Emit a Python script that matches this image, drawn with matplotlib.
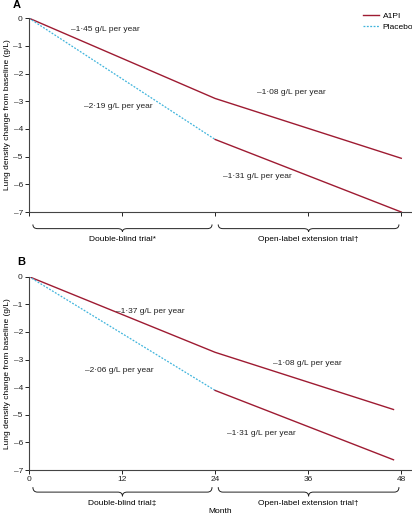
import matplotlib.pyplot as plt
from matplotlib.path import Path
from matplotlib.patches import PathPatch

plt.rcParams['font.family'] = ['Liberation Sans Narrow', 'Liberation Sans', 'DejaVu Sans']
plt.rcParams['font.size'] = 6

red = "#9e1b32"
blue = "#3fb4dc"

# panel A (all patients)
a_months = [0, 24, 48]
a_a1pi = [0, -2.90, -5.06]
a_plac_months = [0, 24]
a_plac = [0, -4.38]
a_delayed_months = [24, 48]
a_delayed = [-4.38, -7.0]

# panel B
b_months = [0, 24, 47]
b_a1pi = [0, -2.74, -4.81]
b_plac_months = [0, 24]
b_plac = [0, -4.12]
b_delayed_months = [24, 47]
b_delayed = [-4.12, -6.63]

yticks = [0, -1, -2, -3, -4, -5, -6, -7]
xticks = [0, 12, 24, 36, 48]

a_notes = [("\u20131\u00b745 g/L per year", 9.8, -0.42),
           ("\u20132\u00b719 g/L per year", 11.5, -3.2),
           ("\u20131\u00b708 g/L per year", 33.8, -2.7),
           ("\u20131\u00b731 g/L per year", 29.4, -5.73)]
b_notes = [("\u20131\u00b737 g/L per year", 15.6, -1.28),
           ("\u20132\u00b706 g/L per year", 11.6, -3.38),
           ("\u20131\u00b708 g/L per year", 35.9, -3.13),
           ("\u20131\u00b731 g/L per year", 29.9, -5.67)]


def brace(ax, x0, x1, ytop, ymid, ytip):
    xm = (x0 + x1) / 2
    r = 0.6
    verts = [(x0, ytop), (x0, ymid), (x0 + r, ymid),
             (xm - r, ymid), (xm, ymid), (xm, ytip),
             (xm, ymid), (xm + r, ymid),
             (x1 - r, ymid), (x1, ymid), (x1, ytop)]
    codes = [Path.MOVETO, Path.CURVE3, Path.CURVE3,
             Path.LINETO, Path.CURVE3, Path.CURVE3,
             Path.CURVE3, Path.CURVE3,
             Path.LINETO, Path.CURVE3, Path.CURVE3]
    ax.add_patch(PathPatch(Path(verts, codes), fill=False, lw=0.7,
                           color="#222222", clip_on=False))


def panel(ax, m, a1pi, pm, plac, dm, dl, notes, labels, show_x, yb):
    ax.plot(m, a1pi, color=red, lw=1.0, label="A1PI")
    ax.plot(pm, plac, color=blue, lw=0.9, ls=(0, (1.5, 1.2)), label="Placebo")
    ax.plot(dm, dl, color=red, lw=1.0)
    for t, x, y in notes:
        ax.text(x, y, t, ha="center", va="center", fontsize=6, color="#222222")
    ax.set_xlim(0, 49.3)
    ax.set_ylim(-7, 0)
    ax.set_yticks(yticks)
    ax.set_yticklabels(["0"] + ["\u2013%d" % -v for v in yticks[1:]])
    ax.set_xticks(xticks)
    if show_x:
        ax.set_xticklabels([str(v) for v in xticks])
    else:
        ax.set_xticklabels([])
    ax.spines["top"].set_visible(False)
    ax.spines["right"].set_visible(False)
    for s in ("left", "bottom"):
        ax.spines[s].set_linewidth(0.8)
        ax.spines[s].set_color("#444444")
    ax.tick_params(length=3, width=0.7, pad=1.5, labelsize=6, colors="#222222")
    ax.set_ylabel("Lung density change from baseline (g/L)", fontsize=6, labelpad=2)
    ytop, ymid, ytip, ytxt = yb
    brace(ax, 0.5, 23.6, ytop, ymid, ytip)
    brace(ax, 24.4, 47.7, ytop, ymid, ytip)
    ax.text(12, ytxt, labels[0], ha="center", va="top", fontsize=6, clip_on=False)
    ax.text(36, ytxt, labels[1], ha="center", va="top", fontsize=6, clip_on=False)


fig = plt.figure(figsize=(4.12, 5.19), dpi=100)
axA = fig.add_axes([0.0704, 0.5915, 0.928, 0.3735])
axB = fig.add_axes([0.0704, 0.0944, 0.928, 0.3726])

panel(axA, a_months, a_a1pi, a_plac_months, a_plac, a_delayed_months, a_delayed,
      a_notes, ["Double-blind trial*", "Open-label extension trial\u2020"], False,
      (-7.45, -7.6, -7.72, -7.85))
panel(axB, b_months, b_a1pi, b_plac_months, b_plac, b_delayed_months, b_delayed,
      b_notes, ["Double-blind trial\u2021", "Open-label extension trial\u2020"], True,
      (-7.62, -7.8, -7.95, -8.08))

axA.legend(loc="upper right", bbox_to_anchor=(1.02, 1.06), frameon=False, fontsize=6,
           handlelength=2.0, handletextpad=0.4, labelspacing=0.4, borderpad=0.2)

fig.text(0.03, 0.99, "A", fontsize=8, fontweight="bold", va="center")
fig.text(0.041, 0.495, "B", fontsize=8, fontweight="bold", va="center")
fig.text(0.535, 0.008, "Month", fontsize=6, ha="center", va="bottom")

fig.savefig("out.png", dpi=100)
